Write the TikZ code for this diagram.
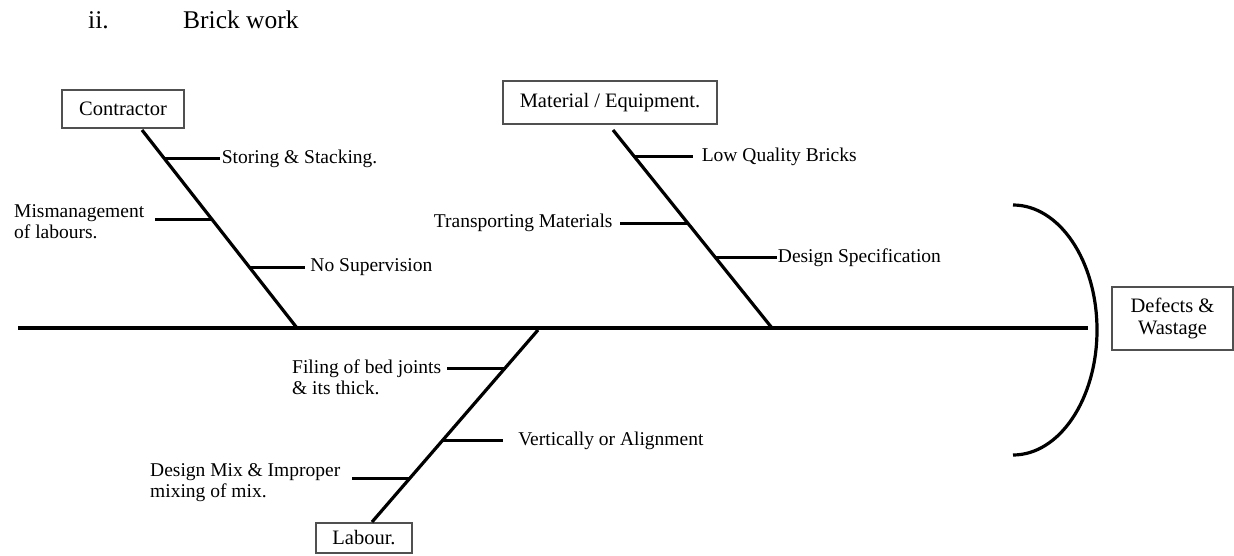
\documentclass[tikz,border=0pt]{standalone}
\usepackage{fontspec}
\setmainfont{Liberation Serif}
\usepackage{xcolor}
\definecolor{boxgray}{RGB}{80,80,80}
\usetikzlibrary{positioning,calc}

\tikzset{
    spine/.style={line width=3.6pt},
    bone/.style={line width=3.2pt},
    twig/.style={line width=3pt},
    causebox/.style={draw=boxgray, line width=1.1pt, inner sep=0pt,
        font=\fontsize{20.5}{22}\selectfont, align=center},
    cause/.style={inner sep=0pt, font=\fontsize{19.5}{21}\selectfont, align=left},
    heading/.style={anchor=base west, inner sep=0pt, font=\fontsize{25.5}{28}\selectfont}
}

\begin{document}
\begin{tikzpicture}[x=1pt,y=-1pt]
    \useasboundingbox (0,0) rectangle (1234,556);
    \node[heading] (num) at (88,29) {ii.};
    \node[heading] (title) at (183,29) {Brick work};

    \coordinate (tail) at (18,328);
    \coordinate (head) at (1088,328);
    \draw[spine] (tail) -- (head);
    \coordinate (arcTop) at (1013,205);
    \draw[bone] (arcTop) arc[start angle=-90, end angle=90, x radius=84, y radius=125];
    \node[causebox, minimum width=121pt, minimum height=63pt] (effect) at (1172.5,318.5) {Defects \&\\Wastage};

    \node[causebox, minimum width=122pt, minimum height=38pt] (contractor) at (123,109) {Contractor};
    \coordinate (cTop) at (142,130);
    \coordinate (cBot) at (297,328);
    \draw[bone] (cTop) -- (cBot);
    \coordinate (c1) at ($(cTop)!0.146!(cBot)$);
    \coordinate (c1e) at ($(c1)+(55,0)$);
    \coordinate (c2) at ($(cTop)!0.4545!(cBot)$);
    \coordinate (c2e) at ($(c2)+(-57,0)$);
    \coordinate (c3) at ($(cTop)!0.692!(cBot)$);
    \coordinate (c3e) at ($(c3)+(56,0)$);
    \draw[twig] (c1) -- (c1e);
    \draw[twig] (c2) -- (c2e);
    \draw[twig] (c3) -- (c3e);
    \node[cause, right=2pt of c1e] (storing) {Storing \& Stacking.};
    \node[cause, anchor=west] (mismanage) at (14,222) {Mismanagement\\of labours.};
    \node[cause, right=5pt of c3e] (supervision) {No Supervision};

    \node[causebox, minimum width=214pt, minimum height=43pt] (material) at (610,102.5) {Material / Equipment.};
    \coordinate (mTop) at (613,130);
    \coordinate (mBot) at (772,328);
    \draw[bone] (mTop) -- (mBot);
    \coordinate (m1) at ($(mTop)!0.136!(mBot)$);
    \coordinate (m1e) at ($(m1)+(58,0)$);
    \coordinate (m2) at ($(mTop)!0.470!(mBot)$);
    \coordinate (m2e) at ($(m2)+(-68,0)$);
    \coordinate (m3) at ($(mTop)!0.646!(mBot)$);
    \coordinate (m3e) at ($(m3)+(61,0)$);
    \draw[twig] (m1) -- (m1e);
    \draw[twig] (m2) -- (m2e);
    \draw[twig] (m3) -- (m3e);
    \node[cause, right=9pt of m1e] (bricks) {Low Quality Bricks};
    \node[cause, left=7pt of m2e] (transport) {Transporting Materials};
    \node[cause, right=1pt of m3e] (design) {Design Specification};

    \node[causebox, minimum width=96pt, minimum height=30pt] (labour) at (364,538) {Labour.};
    \coordinate (lTop) at (538,330);
    \coordinate (lBot) at (372,522);
    \draw[bone] (lTop) -- (lBot);
    \coordinate (l1) at ($(lTop)!0.198!(lBot)$);
    \coordinate (l1e) at ($(l1)+(-58,0)$);
    \coordinate (l2) at ($(lTop)!0.578!(lBot)$);
    \coordinate (l2e) at ($(l2)+(61,0)$);
    \coordinate (l3) at ($(lTop)!0.771!(lBot)$);
    \coordinate (l3e) at ($(l3)+(-58,0)$);
    \draw[twig] (l1) -- (l1e);
    \draw[twig] (l2) -- (l2e);
    \draw[twig] (l3) -- (l3e);
    \node[cause, anchor=west] (filing) at (292,377) {Filing of bed joints\\\& its thick.};
    \node[cause, right=15pt of l2e] (vertical) {Vertically or Alignment};
    \node[cause, anchor=west] (designmix) at (150,482.5) {Design Mix \& Improper\\mixing of mix.};
\end{tikzpicture}
\end{document}
